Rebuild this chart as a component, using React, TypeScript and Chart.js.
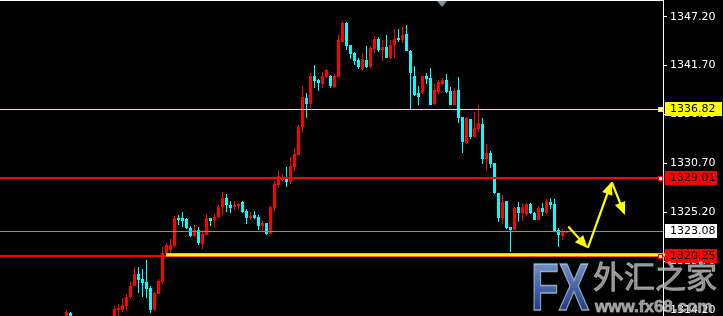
import { useEffect, useRef } from 'react';
import { Chart, registerables } from 'chart.js';

Chart.register(...registerables);

const OPEN = [
  1313.31, 1313.87, 1313.3, 1312.6, 1312.2, 1311.6, 1312.0, 1311.8, 1311.2, 1311.7,
  1312.4, 1312.9, 1313.2, 1314.21, 1314.21, 1314.66, 1315.67, 1316.91, 1318.26, 1317.69,
  1317.36, 1316.68, 1314.21, 1316.01, 1317.36, 1320.51, 1320.96, 1321.41, 1324.56, 1324.56,
  1324.44, 1323.43, 1322.53, 1323.2, 1321.63, 1322.64, 1324.56, 1324.33, 1324.67, 1325.79,
  1326.81, 1326.02, 1325.79, 1325.91, 1326.36, 1325.34, 1324.56, 1324.89, 1324.67, 1323.66,
  1323.99, 1322.76, 1325.68, 1328.27, 1328.83, 1329.06, 1328.61, 1330.29, 1331.64, 1334.79,
  1338.06, 1337.38, 1340.53, 1340.08, 1339.63, 1340.42, 1340.53, 1339.29, 1340.42, 1344.36,
  1346.49, 1344.02, 1343.12, 1342.33, 1341.32, 1342.33, 1341.54, 1343.57, 1344.69, 1343.46,
  1343.79, 1342.56, 1344.02, 1344.81, 1344.58, 1345.26, 1343.34, 1340.53, 1338.62, 1338.62,
  1340.53, 1340.31, 1337.38, 1338.73, 1339.63, 1340.08, 1338.84, 1337.27, 1338.96, 1335.92,
  1332.99, 1335.69, 1333.67, 1334.57, 1335.13, 1331.19, 1331.87, 1330.74, 1327.37, 1324.56,
  1326.47, 1323.54, 1323.2, 1325.79, 1325.12, 1325.01, 1326.13, 1325.12, 1324.33, 1325.68,
  1325.12, 1326.36, 1326.13, 1323.2, 1322.53, 1322.87,
];
const HIGH = [
  1314.21, 1313.98, 1313.4, 1313.0, 1312.5, 1312.3, 1312.6, 1312.2, 1312.0, 1312.7,
  1313.1, 1313.4, 1314.66, 1314.88, 1315.56, 1316.01, 1317.36, 1319.04, 1319.04, 1318.82,
  1319.83, 1316.91, 1316.23, 1317.69, 1321.29, 1321.74, 1322.19, 1324.78, 1324.89, 1325.23,
  1324.56, 1323.66, 1323.77, 1323.54, 1323.2, 1325.01, 1324.56, 1325.01, 1326.02, 1327.48,
  1327.26, 1326.47, 1326.47, 1326.24, 1326.47, 1325.57, 1325.23, 1325.34, 1324.89, 1324.22,
  1323.99, 1325.91, 1328.72, 1329.96, 1329.51, 1330.29, 1331.42, 1332.43, 1335.02, 1339.41,
  1338.62, 1340.87, 1341.77, 1340.19, 1340.98, 1341.32, 1340.64, 1340.76, 1345.14, 1346.72,
  1346.61, 1344.02, 1343.23, 1342.56, 1343.12, 1343.91, 1343.91, 1345.03, 1344.92, 1344.58,
  1345.14, 1344.58, 1345.82, 1345.82, 1346.04, 1346.27, 1343.46, 1341.66, 1339.41, 1340.53,
  1340.87, 1341.43, 1339.63, 1340.08, 1340.31, 1340.76, 1339.29, 1339.18, 1340.42, 1335.92,
  1335.92, 1335.69, 1336.48, 1337.27, 1335.81, 1332.88, 1332.09, 1330.74, 1327.37, 1327.14,
  1326.47, 1323.54, 1325.79, 1326.36, 1326.24, 1326.24, 1326.24, 1325.23, 1325.91, 1326.24,
  1326.69, 1326.81, 1326.69, 1323.43, 1323.32, 1323.2,
];
const LOW = [
  1313.08, 1313.08, 1312.4, 1311.9, 1311.3, 1311.2, 1311.5, 1310.9, 1310.8, 1311.4,
  1312.0, 1312.5, 1313.1, 1313.3, 1313.98, 1314.09, 1315.44, 1316.91, 1316.12, 1315.67,
  1315.56, 1313.87, 1314.09, 1316.01, 1317.13, 1320.39, 1320.51, 1321.29, 1323.77, 1323.54,
  1323.32, 1322.42, 1322.42, 1321.52, 1321.07, 1322.64, 1323.66, 1323.54, 1324.56, 1324.89,
  1325.23, 1325.12, 1325.46, 1325.57, 1325.12, 1323.88, 1324.33, 1324.44, 1323.2, 1323.09,
  1322.64, 1322.76, 1325.34, 1327.93, 1328.61, 1328.04, 1328.38, 1329.84, 1331.64, 1334.12,
  1335.81, 1336.93, 1339.18, 1338.84, 1339.18, 1340.31, 1339.18, 1339.18, 1340.42, 1344.36,
  1343.46, 1342.44, 1341.77, 1341.32, 1341.21, 1341.43, 1341.43, 1343.12, 1343.23, 1342.22,
  1342.56, 1342.44, 1342.56, 1344.36, 1344.24, 1343.34, 1336.71, 1338.28, 1337.27, 1338.51,
  1339.63, 1337.27, 1337.27, 1338.51, 1339.52, 1338.62, 1337.27, 1337.27, 1335.24, 1331.87,
  1332.88, 1333.44, 1333.67, 1334.23, 1330.63, 1329.84, 1330.18, 1327.26, 1324.11, 1323.88,
  1323.32, 1320.73, 1323.2, 1324.11, 1324.22, 1324.78, 1325.01, 1324.33, 1324.33, 1324.78,
  1325.01, 1325.57, 1323.09, 1321.29, 1322.08, 1322.87,
];
const CLOSE = [
  1313.98, 1313.31, 1312.6, 1312.2, 1311.6, 1312.0, 1311.8, 1311.2, 1311.7, 1312.4,
  1312.9, 1313.2, 1314.32, 1314.43, 1314.73, 1315.67, 1316.91, 1318.26, 1317.58, 1317.24,
  1316.57, 1314.21, 1316.12, 1317.47, 1320.62, 1321.52, 1321.52, 1324.56, 1324.33, 1324.22,
  1323.43, 1322.53, 1323.2, 1321.74, 1322.76, 1324.56, 1324.22, 1324.67, 1325.79, 1326.81,
  1326.02, 1325.68, 1326.02, 1326.13, 1325.23, 1324.56, 1324.78, 1324.56, 1323.66, 1323.99,
  1322.76, 1325.79, 1328.38, 1329.28, 1329.17, 1328.61, 1330.41, 1331.76, 1334.79, 1338.17,
  1337.38, 1340.53, 1339.97, 1339.74, 1340.53, 1341.21, 1339.41, 1340.53, 1344.58, 1346.49,
  1343.91, 1343.01, 1342.22, 1341.54, 1342.44, 1341.54, 1343.68, 1344.69, 1343.46, 1343.79,
  1342.56, 1344.02, 1344.69, 1344.58, 1345.14, 1343.34, 1340.87, 1338.39, 1338.17, 1340.53,
  1340.19, 1337.27, 1338.96, 1339.86, 1340.08, 1338.73, 1337.27, 1338.84, 1335.81, 1333.11,
  1335.81, 1333.67, 1334.68, 1335.24, 1331.19, 1331.87, 1330.63, 1327.37, 1324.56, 1326.36,
  1323.43, 1323.2, 1325.68, 1325.12, 1325.79, 1326.13, 1325.12, 1324.33, 1325.68, 1325.23,
  1326.47, 1326.02, 1323.09, 1322.64, 1323.09, 1323.09,
];

const Y_TICKS = [1347.2, 1341.7, 1336.2, 1330.7, 1325.2, 1319.7, 1314.2];
const Y_MIN = 1313.53;
const Y_MAX = 1349.08;
const X_MIN = -16.625;
const X_MAX = 149.125;

const LEVEL_VALUES = [1336.82, 1329.01, 1323.08, 1320.25];
const LEVEL_LABELS = ['1336.82', '1329.01', '1323.08', '1320.25'];
const SUPPORT_START_X = 24.9;

const ARROWS = [
  [[125.6, 1323.51], [130.3, 1321.15]],
  [[130.4, 1321.29], [136.3, 1328.64]],
  [[136.4, 1328.49], [139.6, 1324.89]],
];
const SHIFT_MARK_X = 93.9;

const UP = '#FF0000';
const DOWN = '#00FFFF';

function drawArrow(ctx: CanvasRenderingContext2D, x1: number, y1: number, x2: number, y2: number) {
  const ang = Math.atan2(y2 - y1, x2 - x1);
  const headLen = 13;
  const headW = 5.5;
  const bx = x2 - Math.cos(ang) * headLen;
  const by = y2 - Math.sin(ang) * headLen;
  ctx.beginPath();
  ctx.moveTo(x1, y1);
  ctx.lineTo(bx, by);
  ctx.stroke();
  ctx.beginPath();
  ctx.moveTo(x2, y2);
  ctx.lineTo(bx + Math.sin(ang) * headW, by - Math.cos(ang) * headW);
  ctx.lineTo(bx - Math.sin(ang) * headW, by + Math.cos(ang) * headW);
  ctx.closePath();
  ctx.fill();
}

const overlayPlugin = {
  id: 'overlay',
  afterDatasetsDraw(chart: any) {
    const { ctx, chartArea, scales } = chart;
    const xs = scales.x;
    const ys = scales.y;
    const L = chartArea.left;
    const R = chartArea.right;
    ctx.save();
    ctx.fillStyle = '#FFFFFF';
    ctx.fillRect(L, 0, R - L, 1);

    const y0 = Math.round(ys.getPixelForValue(LEVEL_VALUES[0]));
    ctx.fillStyle = '#FFFF00';
    ctx.fillRect(L, y0, R - L, 1);

    const y1 = Math.round(ys.getPixelForValue(LEVEL_VALUES[1]));
    ctx.fillStyle = '#FF0000';
    ctx.fillRect(L, y1 - 1, R - L, 2);

    const y2 = Math.round(ys.getPixelForValue(LEVEL_VALUES[2]));
    ctx.fillStyle = '#8C8C8C';
    ctx.fillRect(L, y2, R - L, 1);

    const y3 = Math.round(ys.getPixelForValue(LEVEL_VALUES[3]));
    ctx.fillStyle = '#FF0000';
    ctx.fillRect(L, y3 - 1, R - L, 2);
    const sx = Math.round(xs.getPixelForValue(SUPPORT_START_X));
    ctx.fillStyle = '#FFB000';
    ctx.fillRect(sx, y3 - 3, R + 5 - sx, 1);
    ctx.fillStyle = '#FFFF00';
    ctx.fillRect(sx, y3 - 2, R + 5 - sx, 2);
    ctx.fillStyle = '#FF6000';
    ctx.fillRect(sx, y3, R + 5 - sx, 1);

    const anchors: [number, string][] = [[y0, '#FFFF00'], [y1, '#FF0000'], [y3, '#FF0000']];
    for (const [yy, c] of anchors) {
      ctx.fillStyle = c;
      ctx.fillRect(R - 5, yy - 2, 5, 5);
      ctx.fillStyle = '#FFFFFF';
      ctx.fillRect(R - 4, yy - 1, 3, 3);
    }

    ctx.strokeStyle = '#FFFF00';
    ctx.fillStyle = '#FFFF00';
    ctx.lineWidth = 2.2;
    ctx.lineCap = 'round';
    for (const [[ax, ay], [bx, by]] of ARROWS) {
      drawArrow(ctx, xs.getPixelForValue(ax), ys.getPixelForValue(ay), xs.getPixelForValue(bx), ys.getPixelForValue(by));
    }

    const tx = Math.round(xs.getPixelForValue(SHIFT_MARK_X));
    ctx.fillStyle = '#7F8C9A';
    ctx.beginPath();
    ctx.moveTo(tx - 5, 1);
    ctx.lineTo(tx + 5, 1);
    ctx.lineTo(tx, 7);
    ctx.closePath();
    ctx.fill();
    ctx.restore();
  },
  afterDraw(chart: any) {
    const { ctx, scales } = chart;
    const ys = scales.y;
    ctx.save();
    const boxes: [number, string, string, number][] = [
      [LEVEL_VALUES[0], '#FFFF00', '#000000', 57],
      [LEVEL_VALUES[1], '#FF0000', '#000000', 52],
      [LEVEL_VALUES[2], '#FFFFFF', '#000000', 52],
      [LEVEL_VALUES[3], '#FF0000', '#000000', 52],
    ];
    ctx.font = '11px "DejaVu Sans"';
    ctx.textBaseline = 'middle';
    ctx.textAlign = 'left';
    boxes.forEach(([v, bg, fg, w], k) => {
      const cy = Math.round(ys.getPixelForValue(v));
      ctx.fillStyle = bg;
      ctx.fillRect(665, cy - 7, w, 14);
      ctx.fillStyle = fg;
      ctx.fillText(LEVEL_LABELS[k], 670, cy + 0.5);
    });

    ctx.save();
    ctx.translate(531, 310);
    ctx.scale(0.68, 1);
    ctx.font = 'bold 67px "Liberation Sans"';
    ctx.textBaseline = 'alphabetic';
    const g = ctx.createLinearGradient(0, -48, 0, 0);
    g.addColorStop(0, 'rgba(120,160,215,0.92)');
    g.addColorStop(1, 'rgba(35,65,145,0.92)');
    ctx.fillStyle = g;
    ctx.fillText('FX', 0, 0);
    ctx.lineWidth = 1.5;
    ctx.strokeStyle = 'rgba(190,205,230,0.75)';
    ctx.strokeText('FX', 0, 0);
    ctx.restore();

    ctx.font = '31px "Noto Sans CJK SC"';
    ctx.textBaseline = 'alphabetic';
    ctx.fillStyle = 'rgba(170,170,170,0.8)';
    ctx.fillText('外汇之家', 593, 288);
    ctx.lineWidth = 1;
    ctx.strokeStyle = 'rgba(220,220,220,0.6)';
    ctx.strokeText('外汇之家', 593, 288);

    ctx.font = 'bold 17px "Liberation Sans"';
    ctx.fillStyle = 'rgba(175,175,175,0.85)';
    ctx.fillText('www.fx68.com', 595, 312);
    ctx.strokeStyle = 'rgba(220,220,220,0.5)';
    ctx.strokeText('www.fx68.com', 595, 312);
    ctx.restore();
  },
};

export default function App() {
  const ref = useRef<HTMLCanvasElement | null>(null);

  useEffect(() => {
    if (!ref.current) return;
    const idx = OPEN.map((_, i) => i);
    const colors = idx.map((i) => (CLOSE[i] >= OPEN[i] ? UP : DOWN));
    const wicks = idx.map((i) => ({ x: i, y: [LOW[i], HIGH[i]] }));
    const bodies = idx.map((i) => ({ x: i, y: [Math.min(OPEN[i], CLOSE[i]), Math.max(OPEN[i], CLOSE[i])] }));

    const chart = new Chart(ref.current, {
      type: 'bar',
      data: {
        datasets: [
          {
            label: 'wick',
            data: wicks as any,
            backgroundColor: colors,
            barThickness: 1,
            grouped: false,
            borderWidth: 0,
            borderSkipped: false,
            inflateAmount: 0,
            order: 2,
          } as any,
          {
            label: 'body',
            data: bodies as any,
            backgroundColor: colors,
            barThickness: 3,
            grouped: false,
            borderWidth: 0,
            borderSkipped: false,
            inflateAmount: 0,
            minBarLength: 1,
            order: 1,
          } as any,
        ],
      },
      options: {
        responsive: false,
        animation: false,
        devicePixelRatio: 1,
        layout: { padding: 0 },
        plugins: { legend: { display: false }, tooltip: { enabled: false } },
        scales: {
          x: { type: 'linear', min: X_MIN, max: X_MAX, offset: false, display: false, grid: { offset: false } },
          y: {
            type: 'linear',
            position: 'right',
            min: Y_MIN,
            max: Y_MAX,
            afterBuildTicks: (s: any) => {
              s.ticks = Y_TICKS.map((v) => ({ value: v }));
            },
            afterFit: (s: any) => {
              s.width = 60;
              s.paddingTop = 0;
              s.paddingBottom = 0;
            },
            ticks: {
              autoSkip: false,
              color: '#FFFFFF',
              padding: 3,
              font: { family: 'DejaVu Sans', size: 11 },
              callback: (v: any) => Number(v).toFixed(2),
            },
            grid: { drawOnChartArea: false, color: '#FFFFFF', tickLength: 4, tickWidth: 1 },
            border: { display: true, color: '#FFFFFF', width: 1 },
          },
        },
      } as any,
      plugins: [overlayPlugin],
    });
    return () => chart.destroy();
  }, []);

  return (
    <div style={{ position: 'fixed', left: 0, top: 0, width: 723, height: 316, background: '#000', overflow: 'hidden' }}>
      <canvas ref={ref} width={723} height={316} style={{ display: 'block', width: 723, height: 316 }} />
    </div>
  );
}
